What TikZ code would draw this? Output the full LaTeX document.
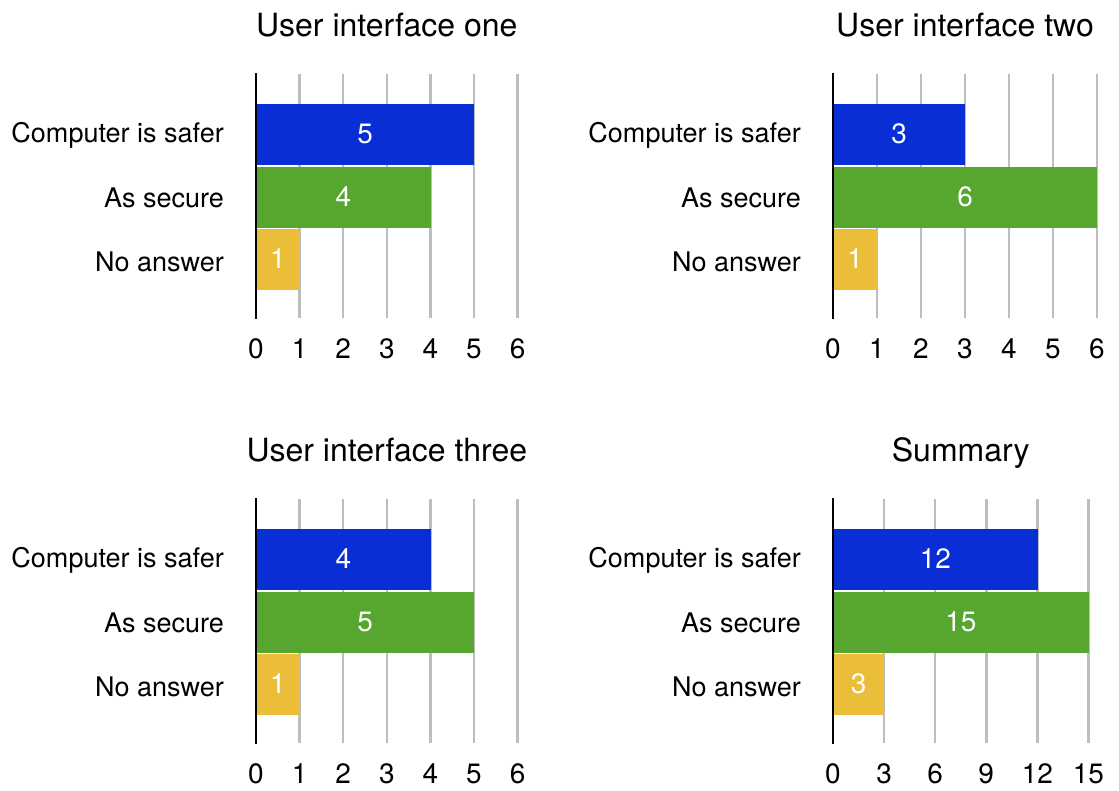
\documentclass[tikz,border=0pt]{standalone}
\usepackage{fontspec}
\setmainfont{TeX Gyre Heros}
\definecolor{barblue}{RGB}{10,46,214}
\definecolor{bargreen}{RGB}{87,166,48}
\definecolor{baryellow}{RGB}{234,190,56}
\definecolor{gridgray}{RGB}{190,190,190}
\tikzset{every node/.style={draw=none,inner sep=0pt},
  gridline/.style={gridgray,line width=2.5pt},
  axisline/.style={black,line width=2.5pt},
  bar/.style={anchor=west,minimum height=61pt,text=white,font=\fontsize{28}{32}\selectfont},
  catlabel/.style={anchor=east,font=\fontsize{27}{32}\selectfont},
  ticklabel/.style={font=\fontsize{28}{32}\selectfont},
  charttitle/.style={anchor=base,font=\fontsize{32}{38}\selectfont}}

\begin{document}
\begin{tikzpicture}[x=1pt,y=-1pt]
\useasboundingbox (0,0) rectangle (1119,790);

% x0 / shift down / px per unit / tick step / ticks / title / values
\foreach \px/\py/\u/\s/\n/\ttl/\va/\vb/\vc [count=\i] in
  {256/0/43.6/1/6/User interface one/5/4/1,
   833/0/44.0/1/6/User interface two/3/6/1,
   256/425/43.6/1/6/User interface three/4/5/1,
   833/425/17.03/3/5/Summary/12/15/3}
{
\begin{scope}[shift={(\px,\py)}]
  \foreach \k in {1,...,\n}
    \draw[gridline] ({\k*\s*\u},74) -- ({\k*\s*\u},318);
  \node[charttitle] (title\i) at ({\n*\s*\u/2},36) {\ttl};

  \node[bar,fill=barblue,minimum width={\va*\u}] (cs\i) at (0,134) {\va};
  \node[bar,fill=bargreen,minimum width={\vb*\u}] (as\i) at (0,197) {\vb};
  \node[bar,fill=baryellow,minimum width={\vc*\u}] (na\i) at (0,259) {\vc};

  \node[catlabel] (lcs\i) at (-32,135) {Computer is safer};
  \node[catlabel] (las\i) at (-32,198) {As secure};
  \node[catlabel] (lna\i) at (-32,262) {No answer};

  \foreach \k in {0,...,\n}{
    \pgfmathtruncatemacro\lab{\k*\s}
    \node[ticklabel] (t\i-\k) at ({\k*\s*\u},349) {\lab};
  }
  \draw[axisline] (0,73) -- (0,319);
\end{scope}
}
\end{tikzpicture}
\end{document}
